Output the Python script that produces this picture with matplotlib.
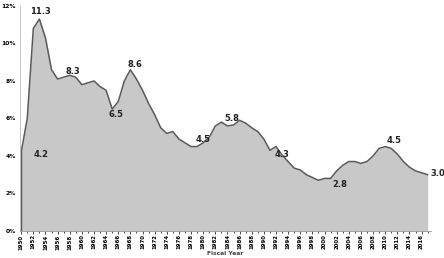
import matplotlib.pyplot as plt
import matplotlib.ticker as mticker

# national defense outlays as % of GDP, fiscal years
years = list(range(1950, 2018))
pct = [4.2, 6.0, 10.8, 11.3, 10.3, 8.6, 8.1, 8.2, 8.3, 8.2,
       7.8, 7.9, 8.0, 7.7, 7.5, 6.5, 6.9, 8.0, 8.6, 8.1,
       7.5, 6.8, 6.2, 5.5, 5.2, 5.3, 4.9, 4.7, 4.5, 4.5,
       4.7, 5.0, 5.6, 5.8, 5.6, 5.65, 5.9, 5.75, 5.5, 5.3,
       4.9, 4.3, 4.5, 4.05, 3.7, 3.35, 3.25, 3.0, 2.85, 2.7,
       2.8, 2.8, 3.2, 3.5, 3.7, 3.7, 3.6, 3.7, 4.0, 4.4,
       4.5, 4.4, 4.1, 3.7, 3.4, 3.2, 3.1, 3.0]

# callouts: (text, x, y)
labels = [("11.3", 1953.2, 11.7), ("4.2", 1953.3, 4.1), ("8.3", 1958.5, 8.5),
          ("8.6", 1968.8, 8.85), ("6.5", 1965.6, 6.2), ("4.5", 1980.0, 4.9),
          ("5.8", 1984.7, 6.0), ("4.3", 1993.0, 4.05), ("2.8", 2002.5, 2.45),
          ("4.5", 2011.5, 4.8), ("3.0", 2018.7, 3.05)]

fig = plt.figure(figsize=(4.44, 2.58), dpi=100)
ax = fig.add_axes([0.045, 0.105, 0.925, 0.872])

ax.fill_between(years, pct, 0, color='#c8c8c8', lw=0)
ax.plot(years, pct, color='#5a5a5a', lw=1.1)
ax.plot([years[0], years[0]], [0, pct[0]], color='#5a5a5a', lw=1.0)

for txt, x, y in labels:
    ax.text(x, y, txt, fontsize=6, fontweight='bold', ha='center', va='center',
            color='#222222', clip_on=False)

ax.set_xlim(1949.8, 2017.5)
ax.set_ylim(0, 12)
ax.yaxis.set_major_locator(mticker.MultipleLocator(2))
ax.yaxis.set_major_formatter(mticker.FuncFormatter(lambda v, p: f"{v:.0f}%"))
ax.set_xticks(range(1950, 2017, 2))
ax.set_xticks(range(1950, 2018), minor=True)
ax.tick_params(axis='x', labelrotation=90, labelsize=3.9, length=2, width=0.5, pad=0.5)
ax.tick_params(axis='x', which='minor', length=1.5, width=0.5)
ax.tick_params(axis='y', labelsize=4.3, length=0, pad=3)
for t in ax.get_xticklabels() + ax.get_yticklabels():
    t.set_fontweight('bold')
ax.set_xlabel('Fiscal Year', fontsize=4.3, fontweight='bold', labelpad=1, color='#444444')

ax.spines['top'].set_visible(False)
ax.spines['right'].set_visible(False)
ax.spines['left'].set_color('#bbbbbb')
ax.spines['bottom'].set_color('#999999')
ax.spines['left'].set_linewidth(0.6)
ax.spines['bottom'].set_linewidth(0.6)

fig.savefig('out.png', dpi=100)
